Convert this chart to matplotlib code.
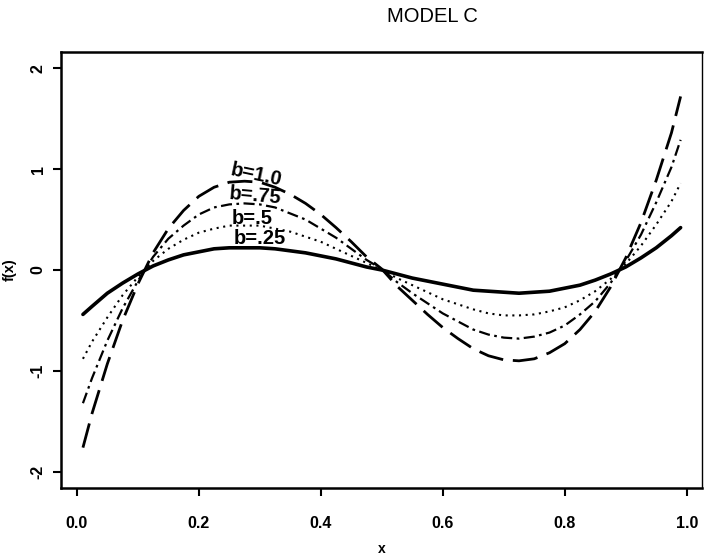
import matplotlib
matplotlib.use("Agg")
import matplotlib.pyplot as plt

plt.rcParams['font.family'] = ['Liberation Sans', 'DejaVu Sans']
plt.rcParams['axes.unicode_minus'] = False

# values
x = [0.01, 0.025, 0.05, 0.075, 0.1, 0.125, 0.15, 0.175, 0.2, 0.225, 0.25,
     0.275, 0.3, 0.325, 0.35, 0.375, 0.4, 0.425, 0.45, 0.475, 0.5,
     0.525, 0.55, 0.575, 0.6, 0.625, 0.65, 0.675, 0.7, 0.725, 0.75,
     0.775, 0.8, 0.825, 0.85, 0.875, 0.9, 0.925, 0.95, 0.975, 0.99]

f_b100 = [-1.76, -1.42, -0.93, -0.50, -0.14, 0.17, 0.41, 0.59, 0.73, 0.82, 0.87,
          0.88, 0.87, 0.82, 0.75, 0.66, 0.55, 0.42, 0.28, 0.13, 0.01,
          -0.16, -0.30, -0.44, -0.57, -0.68, -0.78, -0.85, -0.89, -0.90, -0.88,
          -0.82, -0.73, -0.59, -0.41, -0.17, 0.12, 0.47, 0.89, 1.36, 1.72]
f_b075 = [-1.32, -1.07, -0.70, -0.38, -0.11, 0.13, 0.31, 0.44, 0.55, 0.62, 0.65,
          0.66, 0.65, 0.62, 0.56, 0.50, 0.41, 0.32, 0.21, 0.10, 0.01,
          -0.12, -0.23, -0.33, -0.43, -0.51, -0.59, -0.64, -0.67, -0.68, -0.66,
          -0.62, -0.55, -0.44, -0.31, -0.13, 0.09, 0.35, 0.67, 1.02, 1.29]
f_b050 = [-0.88, -0.71, -0.47, -0.25, -0.07, 0.09, 0.21, 0.30, 0.37, 0.41, 0.44,
          0.44, 0.44, 0.41, 0.38, 0.33, 0.28, 0.21, 0.14, 0.07, 0.00,
          -0.08, -0.15, -0.22, -0.29, -0.34, -0.39, -0.43, -0.45, -0.45, -0.44,
          -0.41, -0.37, -0.30, -0.21, -0.09, 0.06, 0.24, 0.45, 0.68, 0.86]
f_b025 = [-0.44, -0.36, -0.23, -0.13, -0.04, 0.04, 0.10, 0.15, 0.18, 0.21, 0.22,
          0.22, 0.22, 0.21, 0.19, 0.17, 0.14, 0.11, 0.07, 0.03, 0.00,
          -0.04, -0.08, -0.11, -0.14, -0.17, -0.20, -0.21, -0.22, -0.23, -0.22,
          -0.21, -0.18, -0.15, -0.10, -0.04, 0.03, 0.12, 0.22, 0.34, 0.42]

labels = ['b=1.0', 'b=.75', 'b=.5', 'b=.25']
label_x = [0.295, 0.292, 0.287, 0.30]
label_y = [0.94, 0.74, 0.51, 0.31]
label_rot = [-12, -5, 0, 0]

xticks = [0.0, 0.2, 0.4, 0.6, 0.8, 1.0]
yticks = [-2, -1, 0, 1, 2]

fig = plt.figure(figsize=(7.05, 5.6), dpi=100)
ax = fig.add_axes([0.0865, 0.1286, 0.9092, 0.7785])

ax.plot(x, f_b100, color='black', lw=2.0, dashes=(9, 3.5))
ax.plot(x, f_b075, color='black', lw=1.6, dashes=(5, 2, 1.2, 2))
ax.plot(x, f_b050, color='black', lw=1.5, dashes=(1, 2.2))
ax.plot(x, f_b025, color='black', lw=2.6, solid_capstyle='round')

for lab, lx, ly, r in zip(labels, label_x, label_y, label_rot):
    ax.text(lx, ly, lab, ha='center', va='center', fontsize=14.5,
            fontweight='bold', rotation=r,
            family=['Liberation Sans Narrow', 'Liberation Sans'])

ax.set_xlim(-0.026, 1.025)
ax.set_ylim(-2.16, 2.16)
ax.set_xticks(xticks)
ax.set_xticklabels(['0.0', '0.2', '0.4', '0.6', '0.8', '1.0'])
ax.set_yticks(yticks)
ax.set_yticklabels(['-2', '-1', '0', '1', '2'], rotation=90, va='center')

for lab in ax.get_xticklabels() + ax.get_yticklabels():
    lab.set_fontweight('bold')
    lab.set_fontsize(11.5)

ax.tick_params(direction='out', length=6, width=1.5)
ax.tick_params(axis='x', pad=14)
ax.tick_params(axis='y', pad=5)

for s in ['left', 'bottom', 'top']:
    ax.spines[s].set_linewidth(1.8)
ax.spines['right'].set_linewidth(1.0)

ax.set_xlabel('x', fontsize=10, fontweight='bold', labelpad=8)
ax.set_ylabel('f(x)', fontsize=10.5, fontweight='bold', labelpad=10)

fig.text(432 / 705, 1 - 16 / 560, 'MODEL C', ha='center', va='center',
         fontsize=14.5, family=['Liberation Sans Narrow', 'Liberation Sans'])

fig.savefig('out.png', dpi=100)
